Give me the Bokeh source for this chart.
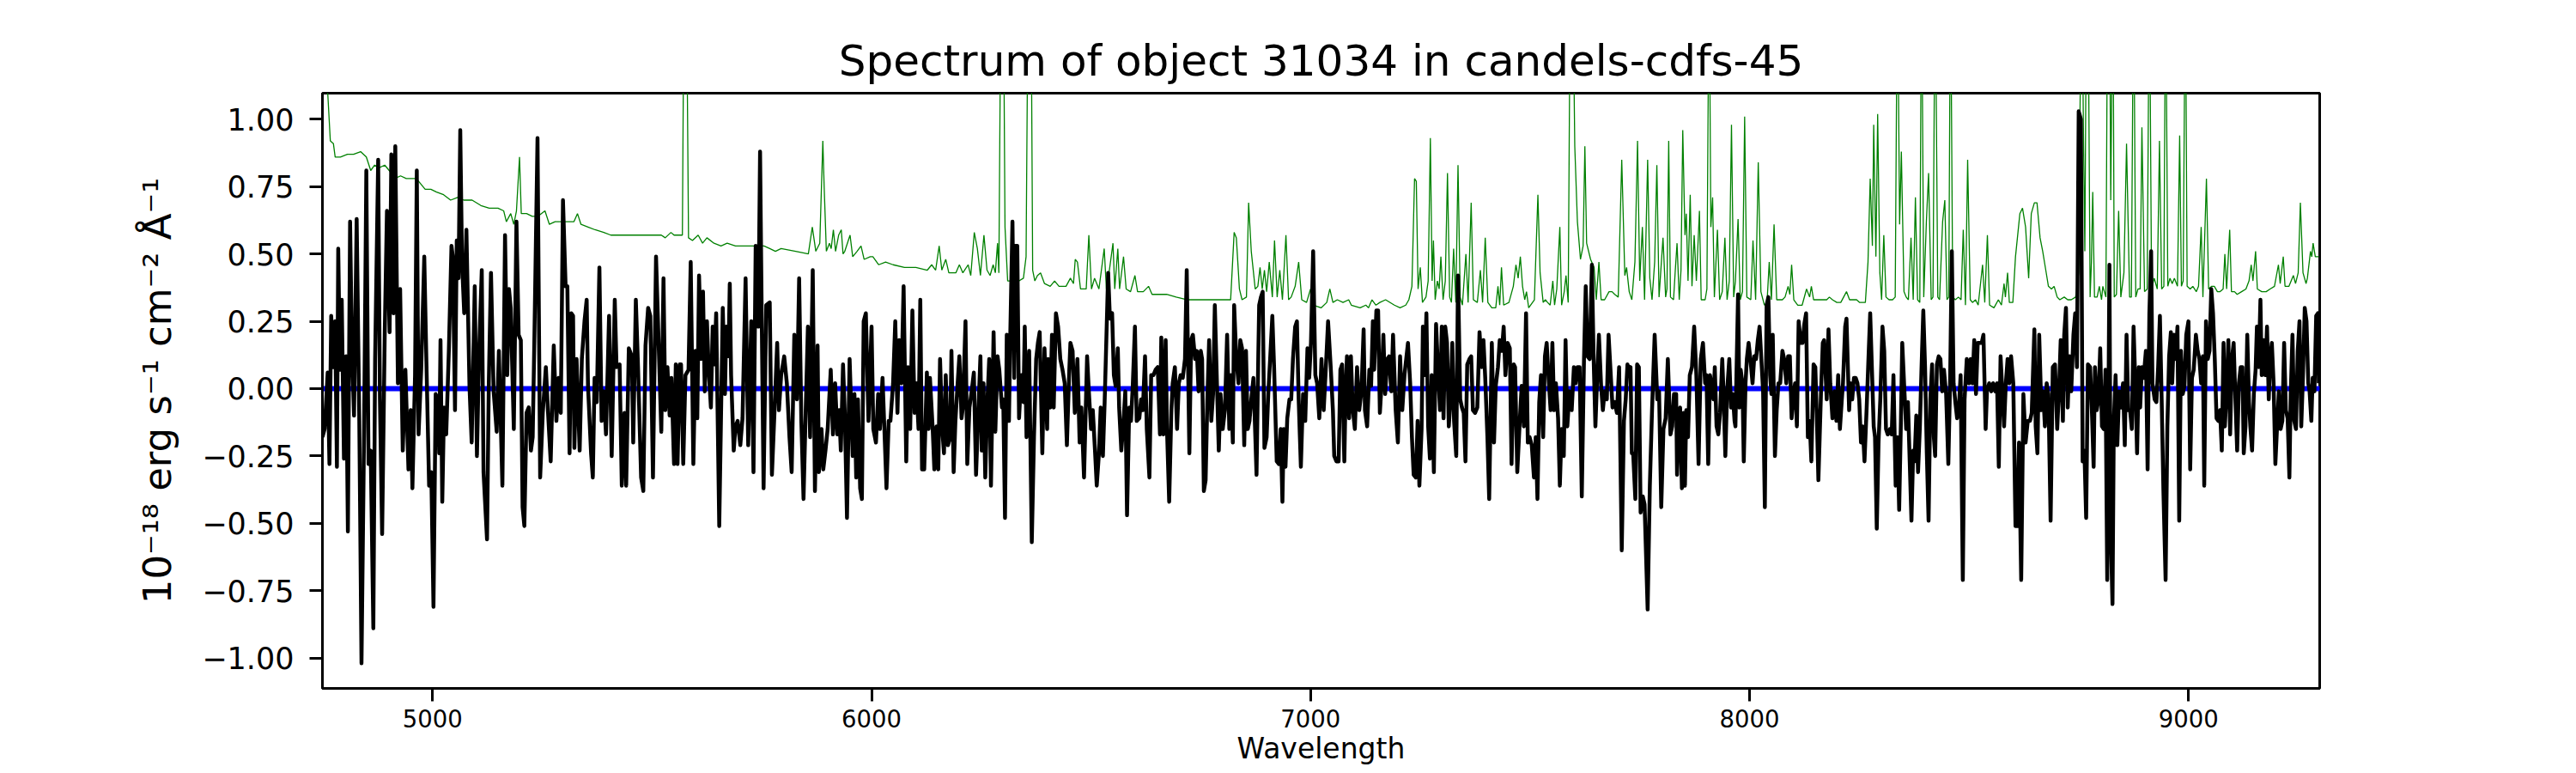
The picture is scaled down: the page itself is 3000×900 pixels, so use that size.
from bokeh.plotting import figure
from bokeh.models import Range1d, FixedTicker, Span
from bokeh.embed import file_html
from bokeh.resources import INLINE

TITLE = "Spectrum of object 31034 in candels-cdfs-45"
X_LABEL = "Wavelength"
Y_LABEL = "10\u207b\u00b9\u2078 erg s\u207b\u00b9 cm\u207b\u00b2 \u00c5\u207b\u00b9"
x_ticks = [5000, 6000, 7000, 8000, 9000]
x_tick_labels = ["5000", "6000", "7000", "8000", "9000"]
y_ticks = [-1.0, -0.75, -0.5, -0.25, 0.0, 0.25, 0.5, 0.75, 1.0]
y_tick_labels = ["\u22121.00", "\u22120.75", "\u22120.50", "\u22120.25", "0.00", "0.25", "0.50", "0.75", "1.00"]
x_limits = (4749, 9299)
y_limits = (-1.113, 1.097)
zero_level = 0.0

# object spectrum (wavelength, flux)
flux_seg1 = [(4749,-0.18),(4754,-0.15),(4761,0.06),(4765,-0.28),(4769,0.27),(4774,0.08),(4778,0.25),(4782,-0.29),(4785,0.52),(4789,0.07),
(4793,0.33),(4798,-0.26),(4803,0.12),(4807,-0.53),(4812,0.62),(4816,0.17),(4821,-0.10),(4827,0.63),(4833,-0.12),(4838,-1.02),
(4844,-0.14),(4849,0.81),(4854,-0.28),(4859,-0.23),(4865,-0.89),(4869,0.11),(4876,0.85),(4880,-0.04),(4885,-0.54),(4891,0.21),
(4896,0.66),(4902,0.21),(4906,0.87),(4911,0.28),(4915,0.90),(4921,0.02),(4926,0.37),(4932,-0.23),(4938,0.07),(4945,-0.30),
(4950,-0.08),(4954,-0.37),(4960,0.05),(4964,0.81),(4968,-0.17),(4974,0.07),(4981,0.49),(4986,0.09),(4992,-0.36),(4997,-0.31),
(5002,-0.81),(5007,-0.02),(5012,-0.04),(5015,-0.24),(5018,0.18),(5022,-0.42),(5026,-0.07),(5031,-0.17),(5037,0.14),(5043,0.53),
(5046,0.49),(5051,-0.08),(5055,0.55),(5059,0.41),(5063,0.96),(5067,0.47),(5072,0.28),(5077,0.59),(5084,0.01),(5089,-0.20),
(5096,0.38),(5101,-0.25),(5106,0.14),(5112,0.44),(5116,-0.31),(5124,-0.56),(5128,0.02),(5133,0.43),(5139,-0.01),(5146,-0.16),
(5151,0.14),(5159,-0.36),(5165,0.57),(5170,0.05),(5174,0.37),(5178,0.30),(5185,-0.15),(5191,0.62),(5196,0.20),(5201,0.18),
(5205,-0.44),(5209,-0.51),(5214,-0.09),(5219,-0.07),(5224,-0.23),(5228,-0.18),(5232,0.20),(5239,0.93),(5245,-0.33),(5251,-0.09),
(5258,0.08),(5263,-0.09),(5269,-0.27),(5276,0.16),(5282,-0.12),(5287,0.04),(5292,-0.09),(5297,0.70),(5303,0.38),(5307,0.38),
(5312,-0.24),(5316,0.28),(5320,0.27),(5323,-0.22),(5328,0.11),(5335,-0.23),(5340,0.11),(5346,0.25),(5351,0.33),(5354,0.01),
(5361,-0.24),(5365,-0.33),(5369,0.04),(5374,-0.05),(5380,0.45),(5385,-0.12),(5390,-0.01),(5395,-0.17),(5402,0.27),(5408,-0.25),
(5415,0.33),(5419,0.08),(5426,0.09),(5431,-0.36),(5437,-0.09),(5441,-0.36),(5447,0.15),(5454,0.12),(5457,-0.20),(5463,0.33),
(5468,0.08),(5475,-0.33),(5480,-0.38),(5485,0.16),(5491,0.30),(5496,0.27),(5502,-0.33),(5509,0.49)]

flux_seg2 = [(5521,-0.16),(5526,0.41),(5530,-0.08),(5535,0.08),(5540,-0.10),(5544,0.04),(5550,-0.28),(5554,0.09),(5558,-0.28),(5563,0.09),
(5566,0.09),(5571,-0.28),(5576,0.05),(5583,0.07),(5588,0.47),(5594,-0.28),(5599,0.14),(5603,-0.11),(5607,0.42),(5612,0.11),
(5616,0.36),(5620,-0.01),(5625,0.25),(5629,0.07),(5634,-0.07),(5638,0.23),(5642,0.09),(5646,0.28),(5653,-0.51),(5661,0.30),
(5666,-0.02),(5669,0.23),(5674,0.12),(5677,0.39),(5680,0.05),(5686,-0.23),(5690,-0.14),(5695,-0.12),(5701,-0.21),(5706,-0.11),
(5713,0.41),(5719,-0.21),(5726,0.25),(5731,-0.31),(5736,0.53),(5742,0.23),(5746,0.88),(5750,0.23),(5754,-0.37),(5760,0.31),
(5768,0.32),(5773,-0.32),(5779,-0.08),(5785,0.17),(5789,-0.08),(5794,0.05),(5801,0.12),(5807,0.02),(5813,-0.18),(5818,-0.31),
(5824,0.20),(5830,-0.04),(5835,0.41),(5840,-0.12),(5845,-0.41),(5850,-0.08),(5855,0.23),(5860,-0.18),(5866,0.44),(5871,-0.38),
(5877,0.16),(5880,-0.31),(5886,-0.15),(5890,-0.30),(5895,-0.23),(5900,-0.15),(5907,0.07),(5912,-0.17),(5917,0.02),(5922,-0.17),
(5926,-0.08),(5930,-0.23),(5935,0.09),(5939,-0.09),(5944,-0.48),(5950,0.11),(5953,-0.04),(5957,-0.25),(5961,-0.02),(5965,-0.33),
(5969,-0.04),(5974,-0.37),(5978,-0.41),(5982,0.25),(5987,0.28),(5993,-0.12),(6000,0.23),(6004,-0.15),(6010,-0.20),(6015,-0.02),
(6019,-0.15),(6025,0.04),(6029,-0.14),(6034,-0.37),(6039,-0.12),(6043,-0.12),(6049,0.02),(6054,0.25),(6059,-0.09),(6063,0.18),
(6068,0.02),(6073,0.38),(6079,-0.27),(6083,0.08),(6088,-0.15),(6093,0.29),(6098,-0.09),(6102,0.02),(6107,-0.15),(6111,0.33),
(6115,-0.30),(6120,-0.30),(6126,0.06),(6130,-0.15),(6133,0.04),(6139,-0.14),(6143,-0.30),(6148,-0.14),(6152,-0.30),(6156,0.11),
(6161,-0.15),(6165,-0.24),(6169,0.05),(6174,-0.21),(6179,-0.18),(6182,0.14),(6187,-0.31),(6191,-0.12),(6195,-0.01),(6200,0.12),
(6205,-0.11),(6208,-0.07),(6214,0.25),(6218,-0.28),(6223,-0.07),(6228,-0.01),(6233,0.06),(6238,-0.32),(6242,-0.14),(6248,0.12),
(6251,-0.23),(6255,0.02),(6259,-0.33),(6264,-0.04),(6268,0.11),(6272,-0.36),(6278,0.21)]

flux_seg3 = [(6282,-0.16),(6287,0.12),(6291,0.07),(6297,-0.07),(6300,-0.04),(6304,-0.48),(6308,0.20),(6313,-0.12),(6316,0.20),(6321,0.62),
(6325,0.04),(6328,0.53),(6332,0.53),(6336,-0.11),(6341,0.05),(6346,-0.05),(6349,0.23),(6353,-0.18),(6359,0.14),(6365,-0.57),
(6370,-0.18),(6375,0.11),(6379,0.17),(6383,0.21),(6389,-0.24),(6394,0.15),(6400,-0.15),(6402,0.11),(6407,-0.07),(6411,0.20),
(6415,-0.07),(6420,0.28),(6425,0.23),(6430,0.11),(6435,0.07),(6440,0.02),(6445,-0.21),(6450,0.05),(6453,0.17),(6458,0.14),
(6463,-0.09),(6469,0.11),(6474,-0.20),(6478,-0.07),(6484,-0.33),(6491,0.12),(6495,-0.01),(6500,-0.15),(6504,-0.08),(6509,-0.23),
(6513,-0.36),(6518,-0.24),(6522,-0.07),(6527,-0.25),(6531,-0.05),(6537,0.31),(6539,0.43),(6543,0.26),(6548,0.28),(6552,0.05),
(6556,0.01),(6561,0.15),(6564,-0.07),(6569,-0.23),(6574,-0.12),(6578,-0.01),(6582,-0.47),(6587,-0.07),(6591,-0.12),(6595,0.01),
(6600,0.23),(6604,-0.12),(6610,-0.11),(6614,-0.04),(6618,-0.08),(6623,0.12),(6627,-0.15),(6633,-0.33),(6637,0.05),(6642,0.05),
(6647,0.07),(6652,0.08),(6657,-0.17),(6660,0.19),(6665,-0.17),(6670,0.18),(6673,-0.15),(6678,-0.42),(6683,-0.08),(6686,0.02),
(6691,0.08),(6696,-0.15),(6700,0.02),(6704,0.05),(6709,0.04),(6714,0.11),(6718,0.44),(6724,-0.24),(6728,0.18),(6732,0.20),
(6737,0.11),(6741,0.14),(6745,-0.01),(6750,0.14),(6753,0.11),(6757,-0.38),(6761,-0.34),(6765,-0.04),(6769,0.18),(6774,-0.12),
(6778,-0.02),(6782,0.31),(6787,0.01),(6791,-0.23),(6795,-0.02),(6800,-0.15),(6805,-0.08),(6810,0.20),(6815,-0.15),(6818,0.05),
(6823,-0.20),(6826,0.31),(6831,0.11),(6836,0.02),(6840,0.18),(6844,0.15),(6849,-0.21),(6853,0.14),(6857,-0.15),(6861,-0.12),
(6865,-0.04),(6870,0.04),(6877,-0.32),(6881,0.12),(6883,0.31),(6887,0.34),(6891,0.36),(6895,-0.22),(6900,-0.18),(6904,-0.01),
(6908,0.11),(6913,0.27),(6917,0.08),(6923,-0.27),(6928,-0.28),(6932,-0.15),(6936,-0.42),(6939,-0.15),(6943,-0.29),(6947,-0.11),
(6952,-0.04),(6956,-0.04),(6960,0.11),(6965,0.23),(6969,0.25),(6973,-0.04),(6978,-0.29),(6983,-0.02),(6988,-0.12),(6993,0.15),
(6997,0.04),(7001,0.17),(7006,0.51),(7011,0.05),(7015,0.02),(7020,-0.11),(7025,0.11),(7030,-0.08),(7035,0.08),(7040,0.25)]

flux_seg4 = [(7046,0.08),(7051,-0.08),(7054,-0.25),(7059,-0.27),(7064,-0.27),(7068,0.07),(7072,0.09),(7077,-0.27),(7080,-0.01),(7083,0.12),
(7088,-0.11),(7092,0.12),(7096,-0.07),(7101,-0.15),(7106,0.08),(7111,-0.08),(7116,-0.01),(7121,0.22),(7124,-0.08),(7129,-0.14),
(7134,0.07),(7138,0.01),(7142,0.25),(7145,0.07),(7150,0.29),(7154,0.29),(7158,-0.09),(7162,0.02),(7166,0.20),(7170,-0.02),
(7175,0.11),(7179,0.12),(7184,-0.01),(7188,0.20),(7194,-0.08),(7199,-0.20),(7204,0.12),(7209,-0.08),(7214,0.05),(7218,0.11),
(7222,0.17),(7227,0.02),(7231,-0.18),(7235,-0.32),(7240,-0.33),(7244,-0.12),(7248,-0.36),(7253,-0.15),(7256,0.23),(7260,0.05),
(7264,0.28),(7268,-0.14),(7272,-0.26),(7276,0.05),(7281,-0.31),(7286,0.24),(7291,0.05),(7295,-0.08),(7299,0.23),(7303,-0.11),
(7307,0.23),(7311,0.17),(7315,-0.14),(7319,-0.04),(7323,0.17),(7327,-0.12),(7332,-0.25),(7336,0.42),(7341,-0.04),(7345,-0.07),
(7349,-0.09),(7353,-0.27),(7357,0.09),(7362,0.11),(7366,0.12),(7370,-0.08),(7375,-0.09),(7380,-0.07),(7385,0.21),(7390,0.08),
(7394,0.18),(7398,0.04),(7403,-0.18),(7407,-0.41),(7413,0.17),(7418,-0.20),(7422,0.01),(7427,0.08),(7431,0.18),(7436,0.14),
(7440,0.23),(7444,0.05),(7449,0.17),(7454,0.15),(7458,-0.28),(7463,0.09),(7466,0.08),(7471,-0.31),(7477,-0.11),(7481,0.01),
(7486,-0.14),(7491,0.28),(7495,-0.20),(7499,-0.18),(7504,-0.21),(7509,-0.33),(7513,-0.18),(7517,-0.41),(7521,-0.05),(7525,0.05),
(7530,-0.18),(7534,0.12),(7538,0.17),(7543,0.02),(7547,-0.08),(7551,0.17),(7555,-0.08),(7559,0.02),(7564,-0.11),(7568,-0.36),
(7572,-0.15),(7577,-0.25),(7581,0.18),(7585,-0.14),(7590,-0.01),(7595,-0.08),(7600,0.08),(7604,0.02),(7608,0.08),(7613,0.08),
(7618,-0.40),(7623,0.11),(7627,0.38),(7631,0.12),(7636,0.11),(7641,0.46),(7645,0.11),(7649,-0.14),(7653,0.04),(7657,0.20),
(7662,0.01),(7666,-0.08),(7670,-0.01),(7675,-0.04),(7679,0.20),(7683,0.08),(7688,-0.07),(7693,-0.05),(7698,-0.09),(7703,0.08),
(7709,-0.60),(7714,-0.12),(7718,-0.04),(7722,0.09),(7726,0.07),(7729,0.08),(7732,-0.24),(7735,-0.24),(7740,-0.41),(7744,0.09),
(7748,0.08),(7752,-0.46),(7757,-0.40),(7761,-0.43),(7768,-0.82),(7773,-0.36),(7778,-0.08),(7784,0.20),(7790,-0.04),(7794,-0.01)]

flux_seg5 = [(7799,-0.44),(7804,-0.15),(7809,-0.11),(7814,0.11),(7820,-0.17),(7824,-0.14),(7828,-0.02),(7833,-0.02),(7835,-0.32),(7839,-0.11),
(7842,-0.07),(7846,-0.37),(7850,-0.09),(7853,-0.36),(7856,-0.08),(7860,-0.18),(7864,0.05),(7869,0.08),(7874,0.23),(7879,0.05),
(7884,-0.28),(7889,0.11),(7894,0.17),(7899,0.02),(7902,0.05),(7906,-0.28),(7910,0.05),(7914,0.01),(7918,-0.04),(7921,0.08),
(7925,-0.14),(7929,-0.17),(7933,-0.09),(7938,0.11),(7941,-0.02),(7945,-0.25),(7949,-0.01),(7954,0.11),(7958,-0.07),(7962,-0.02),
(7966,-0.12),(7968,-0.14),(7974,0.35),(7977,-0.07),(7980,0.07),(7984,0.02),(7987,-0.27),(7991,0.02),(7994,0.11),(7998,0.17),
(8002,0.11),(8007,0.02),(8011,0.12),(8015,0.11),(8019,0.18),(8023,0.23),(8027,0.11),(8031,-0.01),(8035,-0.44),(8039,0.31),
(8043,0.34),(8047,0.05),(8050,-0.02),(8053,0.20),(8058,-0.25),(8062,-0.08),(8066,0.02),(8070,0.02),(8075,0.14),(8079,0.11),
(8084,0.02),(8088,0.12),(8092,0.12),(8096,-0.11),(8100,-0.02),(8104,0.02),(8108,-0.14),(8112,0.25),(8117,0.17),(8121,0.17),
(8125,0.24),(8129,0.28),(8133,-0.18),(8137,-0.12),(8141,-0.27),(8146,0.09),(8150,0.08),(8154,-0.14),(8157,-0.34),(8163,-0.01),
(8167,0.17),(8170,0.18),(8176,-0.04),(8180,0.22),(8184,0.02),(8189,-0.11),(8194,-0.01),(8198,-0.12),(8202,0.05),(8206,-0.15),
(8210,-0.05),(8213,0.02),(8218,0.23),(8221,0.26),(8227,-0.08),(8230,0.02),(8234,-0.04),(8238,0.04),(8242,0.04),(8246,0.02),
(8250,-0.04),(8254,-0.20),(8258,-0.14),(8262,-0.27),(8267,-0.07),(8271,0.11),(8275,0.28),(8279,0.07),(8283,-0.14),(8286,-0.18),
(8290,-0.52),(8294,-0.20),(8298,-0.04),(8303,0.23),(8307,0.14),(8311,-0.15),(8315,-0.17),(8320,-0.15),(8324,-0.17),(8328,0.05),
(8333,-0.36),(8337,-0.18),(8341,-0.45),(8345,-0.12),(8348,0.17),(8353,-0.01),(8357,-0.15),(8361,-0.05),(8365,-0.27),(8369,-0.49),
(8373,-0.23),(8376,-0.27),(8380,-0.10),(8384,-0.31),(8388,-0.15),(8392,0.08),(8396,0.29),(8400,0.08),(8404,-0.24),(8408,-0.49),
(8412,-0.04),(8416,0.09),(8420,-0.18),(8423,-0.25),(8427,0.09),(8431,0.12),(8435,0.11),(8439,-0.01),(8443,0.07),(8448,-0.02),
(8453,-0.28),(8457,0.02),(8461,0.51),(8465,0.02),(8469,-0.05),(8473,-0.11),(8477,-0.07),(8481,0.05),(8486,-0.71),(8490,-0.04),
(8495,0.11),(8500,0.02),(8504,0.11),(8508,0.02),(8512,0.18),(8516,-0.02),(8520,0.17),(8525,0.17),(8529,0.17),(8533,0.20),
(8538,-0.15),(8541,-0.01),(8546,0.02),(8551,-0.01),(8555,0.02),(8560,-0.01),(8564,0.02),(8568,-0.29),(8572,0.12)]

flux_seg6 = [(8580,-0.14),(8584,0.02),(8588,0.11),(8592,0.02),(8596,0.12),(8601,0.02),(8606,-0.51),(8610,-0.51),(8614,-0.20),(8619,-0.71),
(8624,-0.02),(8629,-0.20),(8634,-0.12),(8639,-0.12),(8643,-0.09),(8649,0.22),(8652,-0.14),(8656,-0.24),(8660,0.20),(8665,-0.08),
(8669,-0.01),(8673,-0.14),(8677,0.02),(8681,-0.02),(8686,-0.49),(8691,0.08),(8696,0.09),(8701,-0.15),(8705,-0.01),(8709,0.18),
(8714,-0.12),(8717,0.20),(8721,0.30),(8725,-0.07),(8729,0.12),(8733,-0.01),(8738,0.20),(8742,0.28),(8746,0.08),(8750,1.03),
(8755,1.00),(8759,-0.27),(8763,-0.23),(8767,-0.48),(8771,0.09),(8776,0.08),(8780,-0.08),(8784,-0.29),(8787,0.08),(8791,-0.08),
(8795,-0.04),(8799,0.15),(8803,-0.14),(8807,-0.15),(8811,0.07),(8815,-0.71),(8820,0.46),(8823,-0.53),(8827,-0.80),(8830,-0.12),
(8834,0.05),(8838,-0.21),(8842,-0.01),(8846,-0.07),(8851,0.02),(8855,-0.21),(8859,0.20),(8863,-0.08),(8867,-0.08),(8871,-0.15),
(8875,0.23),(8879,0.02),(8883,-0.24),(8887,0.08),(8890,-0.07),(8894,0.08),(8898,0.04),(8903,0.14),(8907,-0.30),(8911,0.28),
(8915,0.51),(8918,0.02),(8923,-0.04),(8927,-0.05),(8931,0.08),(8935,0.27),(8939,-0.04),(8943,-0.38),(8948,-0.71),(8952,-0.14),
(8956,0.12),(8960,0.21),(8963,0.02),(8967,0.20),(8971,0.11),(8975,0.23),(8979,-0.49),(8983,0.14),(8987,-0.02),(8991,0.01),
(8995,0.20),(9000,0.25),(9004,-0.30),(9008,0.04),(9012,0.07),(9017,0.20),(9021,0.14),(9025,0.11),(9029,0.02),(9033,0.12),
(9036,-0.36),(9040,0.25),(9044,0.11),(9048,0.14),(9052,0.37),(9056,0.28),(9060,0.11),(9064,-0.11),(9068,-0.12),(9072,-0.08),
(9076,-0.23),(9080,0.17),(9083,-0.14),(9087,-0.01),(9091,0.18),(9095,-0.17),(9099,0.11),(9103,0.17),(9107,-0.04),(9111,-0.23),
(9115,0.02),(9119,0.08),(9123,0.08),(9126,-0.24),(9130,-0.14),(9134,0.20),(9138,-0.05),(9141,-0.14),(9145,-0.23),(9149,-0.02),
(9153,0.07),(9156,0.23),(9160,0.08),(9164,0.33),(9167,0.05),(9171,0.18),(9175,0.05),(9179,0.23),(9183,-0.04),(9186,0.11),
(9190,0.17),(9194,0.02),(9198,-0.28),(9202,-0.14),(9206,-0.01),(9210,-0.15),(9214,-0.12),(9218,0.17),(9222,-0.08),(9226,-0.11),
(9230,-0.33),(9233,-0.02),(9237,0.20),(9241,-0.12),(9245,-0.15),(9249,0.14),(9253,0.25),(9257,-0.14),(9261,0.05),(9265,0.30),
(9269,0.25),(9273,0.02),(9276,-0.01),(9280,-0.12),(9283,0.04),(9287,-0.01),(9291,0.27),(9295,0.28),(9297,0.02)]

# green (sky / noise) spectrum; values above the top of the plot run off the frame
sky_seg1 = [(4755,1.30),(4761,1.10),(4767,0.92),(4774,0.91),(4778,0.86),(4790,0.86),(4806,0.87),(4820,0.87),(4836,0.88),(4849,0.86),
(4859,0.81),(4868,0.83),(4878,0.82),(4891,0.83),(4901,0.81),(4914,0.78),(4927,0.79),(4940,0.78),(4953,0.78),(4963,0.78),
(4973,0.76),(4983,0.74),(4996,0.74),(5009,0.73),(5025,0.72),(5041,0.70),(5057,0.71),(5071,0.70),(5090,0.70),(5110,0.68),
(5129,0.67),(5149,0.67),(5162,0.66),(5168,0.62),(5178,0.65),(5185,0.61),(5191,0.66),(5198,0.86),(5202,0.65),(5214,0.65),
(5227,0.64),(5240,0.64),(5256,0.66),(5266,0.61),(5279,0.62),(5292,0.62),(5312,0.62),(5322,0.62),(5330,0.65),(5338,0.61),
(5354,0.60),(5370,0.59),(5390,0.58),(5406,0.57),(5429,0.57),(5455,0.57),(5481,0.57),(5501,0.57)]

sky_seg2 = [(5521,0.57),(5530,0.56),(5543,0.58),(5550,0.57),(5563,0.57),(5569,0.57),(5573,1.60),(5578,1.60),(5583,0.56),(5592,0.55),
(5605,0.57),(5615,0.54),(5625,0.56),(5641,0.54),(5657,0.53),(5671,0.54),(5690,0.53),(5716,0.53),(5736,0.53),(5755,0.53),
(5768,0.52),(5781,0.51),(5794,0.52),(5827,0.51),(5856,0.50),(5865,0.60),(5873,0.51),(5882,0.54),(5889,0.92),(5892,0.75),
(5897,0.51),(5904,0.54),(5908,0.52),(5913,0.59),(5918,0.51),(5925,0.57),(5931,0.59),(5935,0.50),(5939,0.51),(5951,0.57),
(5957,0.49),(5967,0.51),(5976,0.53),(5983,0.48),(5997,0.49),(6003,0.49),(6016,0.46),(6032,0.47),(6049,0.46),(6075,0.45),
(6101,0.45),(6127,0.44),(6137,0.46),(6146,0.44),(6154,0.53),(6160,0.44),(6169,0.48),(6176,0.43),(6192,0.43),(6200,0.46),
(6208,0.43),(6220,0.46),(6226,0.42),(6234,0.58),(6241,0.52),(6248,0.42),(6256,0.57),(6263,0.44),(6270,0.42),(6277,0.46)]

sky_seg3 = [(6282,0.43),(6287,0.54),(6290,0.43),(6295,1.60),(6300,1.60),(6304,0.60),(6310,0.40),(6323,0.40),(6336,0.40),(6346,0.41),
(6352,0.49),(6357,1.60),(6363,1.60),(6367,0.44),(6372,0.40),(6378,0.42),(6385,0.43),(6394,0.39),(6407,0.38),(6417,0.40),
(6427,0.38),(6443,0.38),(6453,0.41),(6460,0.39),(6464,0.48),(6469,0.47),(6476,0.37),(6489,0.37),(6495,0.57),(6501,0.37),
(6508,0.41),(6518,0.37),(6530,0.52),(6535,0.37),(6541,0.43),(6550,0.54),(6554,0.37),(6561,0.52),(6565,0.37),(6574,0.49),
(6580,0.37),(6590,0.36),(6600,0.42),(6606,0.36),(6619,0.36),(6631,0.38),(6639,0.35),(6655,0.35),(6672,0.35),(6694,0.34),
(6720,0.33),(6740,0.33),(6760,0.33),(6786,0.33),(6818,0.33),(6826,0.58),(6831,0.56),(6838,0.37),(6844,0.33),(6854,0.34),
(6859,0.69),(6865,0.51),(6874,0.37),(6880,0.38),(6885,0.45),(6890,0.37),(6895,0.44),(6900,0.36),(6906,0.47),(6913,0.34),
(6918,0.55),(6924,0.34),(6930,0.44),(6936,0.33),(6944,0.57),(6950,0.33),(6956,0.34),(6965,0.38),(6973,0.47),(6980,0.33),
(6991,0.32),(7000,0.37),(7007,0.31),(7024,0.30),(7037,0.32)]

sky_seg4 = [(7044,0.37),(7051,0.32),(7061,0.33),(7074,0.32),(7087,0.33),(7093,0.31),(7113,0.30),(7126,0.31),(7132,0.30),(7140,0.33),
(7149,0.31),(7158,0.32),(7171,0.33),(7191,0.31),(7204,0.30),(7217,0.31),(7224,0.33),(7231,0.38),(7237,0.78),(7241,0.77),
(7245,0.37),(7250,0.45),(7255,0.32),(7263,0.34),(7268,0.40),(7273,0.93),(7277,0.40),(7280,0.55),(7284,0.33),(7289,0.40),
(7293,0.37),(7297,0.49),(7302,0.33),(7307,0.40),(7312,0.80),(7317,0.34),(7321,0.32),(7326,0.52),(7331,0.32),(7336,0.83),
(7341,0.34),(7346,0.31),(7354,0.50),(7359,0.32),(7366,0.69),(7371,0.33),(7380,0.32),(7387,0.44),(7392,0.32),(7398,0.56),
(7404,0.32),(7413,0.30),(7422,0.30),(7427,0.38),(7431,0.31),(7435,0.45),(7440,0.31),(7452,0.32),(7462,0.38),(7468,0.46),
(7473,0.41),(7478,0.49),(7483,0.38),(7488,0.33),(7492,0.36),(7497,0.30),(7510,0.33),(7518,0.72),(7523,0.43),(7530,0.32),
(7535,0.33),(7540,0.32),(7546,0.31),(7552,0.40),(7556,0.31),(7561,0.37),(7568,0.60),(7572,0.31),(7578,0.36),(7582,0.42),
(7587,0.32),(7592,1.60),(7597,1.60),(7602,0.90),(7608,0.62),(7615,0.48),(7621,0.53),(7625,0.90),(7629,0.54),(7638,0.48),
(7646,0.45),(7651,0.33),(7657,0.47),(7662,0.33),(7670,0.33),(7680,0.36),(7687,0.36),(7693,0.35),(7701,0.34),(7709,0.85),
(7716,0.42),(7720,0.45),(7726,0.36),(7732,0.33),(7739,0.47),(7745,0.92),(7750,0.40),(7756,0.60),(7761,0.33),(7768,0.85),
(7773,0.41),(7778,0.33),(7784,0.47),(7789,0.83),(7794,0.34),(7803,0.56),(7809,0.34)]

sky_seg5 = [(7812,0.37),(7816,0.92),(7820,0.34),(7827,0.33),(7831,0.44),(7835,0.54),(7840,0.33),(7844,0.44),(7848,0.96),(7853,0.57),
(7856,0.65),(7860,0.40),(7865,0.72),(7869,0.38),(7874,0.57),(7879,0.40),(7886,0.66),(7890,0.33),(7899,0.33),(7903,0.37),
(7908,1.60),(7912,0.60),(7916,0.71),(7920,0.34),(7927,0.59),(7932,0.33),(7938,0.36),(7944,0.56),(7949,0.33),(7954,0.40),
(7959,0.98),(7964,0.34),(7968,0.40),(7974,0.63),(7979,0.33),(7984,0.36),(7989,1.01),(7994,0.34),(8003,0.33),(8008,0.55),
(8014,0.33),(8020,0.84),(8026,0.36),(8034,0.31),(8040,0.32),(8045,0.47),(8050,0.33),(8056,0.61),(8062,0.33),(8068,0.33),
(8075,0.33),(8081,0.34),(8088,0.38),(8092,0.35),(8096,0.46),(8101,0.33),(8110,0.31),(8120,0.31),(8130,0.37),(8137,0.34),
(8141,0.38),(8146,0.33),(8156,0.33),(8166,0.33),(8176,0.33),(8182,0.34),(8189,0.33),(8199,0.32),(8208,0.32),(8221,0.36),
(8228,0.33),(8238,0.33),(8244,0.33),(8251,0.32),(8264,0.32),(8270,0.47),(8275,0.78),(8280,0.53),(8283,0.98),(8288,0.49),
(8292,1.02),(8297,0.43),(8301,0.33),(8306,0.57),(8311,0.34),(8318,0.33),(8326,0.33),(8332,0.34),(8337,1.60),(8342,0.61),
(8346,0.88),(8352,0.36),(8357,0.34),(8362,0.33),(8368,0.56),(8373,0.33),(8378,0.71),(8383,0.33),(8388,0.32),(8392,1.60),
(8397,0.34),(8403,0.62),(8408,0.80),(8414,0.33),(8418,0.34),(8423,1.60),(8429,0.34),(8433,0.33),(8440,0.62),(8445,0.70),
(8450,0.33),(8454,0.34),(8458,1.60),(8463,0.34),(8469,0.33),(8476,0.34),(8482,0.33),(8487,0.59),(8492,0.31),(8497,0.85),
(8503,0.33),(8508,0.32),(8515,0.33),(8521,0.31),(8531,0.46),(8536,0.32),(8542,0.57),(8547,0.31),(8557,0.30),(8567,0.33)]

sky_seg6 = [(8574,0.31),(8580,0.39),(8583,0.34),(8588,0.43),(8592,0.32),(8600,0.32),(8606,0.49),(8616,0.65),(8622,0.67),(8629,0.60),
(8636,0.41),(8642,0.65),(8649,0.69),(8655,0.69),(8662,0.56),(8668,0.51),(8675,0.44),(8681,0.38),(8688,0.37),(8694,0.38),
(8701,0.34),(8707,0.33),(8717,0.34),(8725,0.33),(8733,0.33),(8743,0.34),(8750,0.43),(8753,1.03),(8757,1.60),(8761,0.92),
(8764,0.51),(8768,1.60),(8771,1.60),(8776,0.34),(8779,0.47),(8782,0.73),(8786,0.34),(8792,0.34),(8797,0.38),(8802,0.33),
(8805,0.38),(8812,0.34),(8816,1.60),(8820,1.60),(8823,0.70),(8828,1.60),(8831,0.34),(8836,0.35),(8841,0.66),(8846,0.34),
(8853,0.43),(8859,0.91),(8866,0.34),(8870,0.34),(8875,1.60),(8880,0.34),(8885,0.37),(8890,0.37),(8894,0.97),(8900,0.36),
(8906,0.37),(8911,1.60),(8916,0.37),(8922,0.41),(8929,0.37),(8934,0.92),(8939,0.37),(8944,0.38),(8948,1.60),(8953,0.38),
(8958,0.41),(8963,0.39),(8968,0.41),(8975,0.38),(8980,0.94),(8984,0.38),(8988,0.40),(8993,1.60),(8997,0.38),(9004,0.37),
(9010,0.38),(9018,0.36),(9023,0.38),(9029,0.60),(9033,0.34),(9041,0.78),(9046,0.37),(9053,0.38),(9059,0.38),(9066,0.36),
(9072,0.36),(9079,0.37),(9083,0.50),(9087,0.37),(9094,0.59),(9098,0.36),(9105,0.36),(9111,0.35),(9121,0.36),(9131,0.37),
(9138,0.40),(9143,0.46),(9147,0.40),(9153,0.51),(9157,0.37),(9167,0.36),(9177,0.36),(9186,0.37),(9196,0.38),(9205,0.46),
(9209,0.39),(9216,0.49),(9220,0.38),(9229,0.38),(9239,0.42),(9244,0.39),(9250,0.43),(9255,0.69),(9261,0.43),(9268,0.39),
(9271,0.41),(9278,0.51),(9281,0.49),(9284,0.54),(9289,0.49),(9294,0.49),(9297,0.49)]


def unpack(*segments):
    xs, ys = [], []
    for seg in segments:
        for a, b in seg:
            xs.append(a)
            ys.append(b)
    return xs, ys


obj_wave, obj_flux = unpack(flux_seg1, flux_seg2, flux_seg3, flux_seg4, flux_seg5, flux_seg6)
sky_wave, sky_flux = unpack(sky_seg1, sky_seg2, sky_seg3, sky_seg4, sky_seg5, sky_seg6)

FONT = "DejaVu Sans"

# Bokeh's page template removes the body margin, so the canvas starts at (0, 0)
p = figure(width=3000, height=900, output_backend="svg", toolbar_location=None,
           x_range=Range1d(*x_limits), y_range=Range1d(*y_limits),
           min_border_left=375, min_border_right=299, min_border_top=108, min_border_bottom=99,
           title=TITLE)
p.background_fill_color = "white"
p.border_fill_color = "white"
p.xgrid.visible = False
p.ygrid.visible = False
p.outline_line_color = "black"
p.outline_line_width = 3
p.outline_line_alpha = 1.0

p.title.text_font = FONT
p.title.text_font_size = "50px"
p.title.text_font_style = "normal"
p.title.text_color = "black"
p.title.align = "center"
p.title.standoff = 18

for ax in (p.xaxis[0], p.yaxis[0]):
    ax.axis_line_color = "black"
    ax.axis_line_width = 3
    ax.major_tick_line_color = "black"
    ax.major_tick_line_width = 3
    ax.major_tick_out = 15
    ax.major_tick_in = 0
    ax.minor_tick_out = 0
    ax.minor_tick_in = 0
    ax.major_label_text_font = FONT
    ax.major_label_text_color = "black"
    ax.axis_label_text_font = FONT
    ax.axis_label_text_font_style = "normal"
    ax.axis_label_text_color = "black"

xax = p.xaxis[0]
xax.ticker = FixedTicker(ticks=x_ticks, minor_ticks=[])
xax.major_label_overrides = {t: l for t, l in zip(x_ticks, x_tick_labels)}
xax.major_label_text_font_size = "27.5px"
xax.major_label_standoff = 9
xax.axis_label = X_LABEL
xax.axis_label_text_font_size = "33px"
xax.axis_label_standoff = 2
xax.major_label_text_line_height = 1.0
xax.axis_label_text_line_height = 1.0

yax = p.yaxis[0]
yax.ticker = FixedTicker(ticks=y_ticks, minor_ticks=[])
yax.major_label_overrides = {t: l for t, l in zip(y_ticks, y_tick_labels)}
yax.major_label_text_font_size = "35px"
yax.major_label_standoff = 18
yax.axis_label = Y_LABEL
yax.axis_label_text_font_size = "45px"
yax.axis_label_standoff = 22

zero = Span(location=zero_level, dimension="width", line_color="#0000ff", line_width=6, level="underlay")
p.add_layout(zero)

p.line(sky_wave, sky_flux, line_color="#008000", line_width=1.3)
p.line(obj_wave, obj_flux, line_color="black", line_width=4.5, line_join="round")

open("out.html", "w").write(file_html(p, INLINE))
